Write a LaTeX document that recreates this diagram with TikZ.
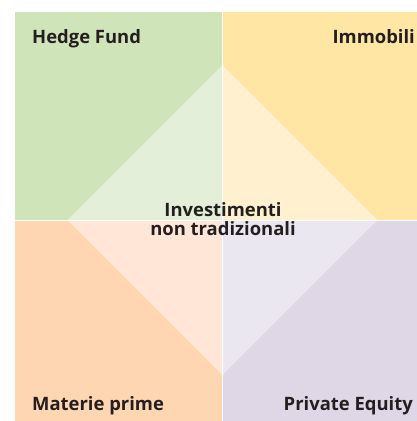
\documentclass[tikz,border=0pt]{standalone}
\usepackage{fontspec}
\setmainfont{Open Sans}
\definecolor{hfdark}{HTML}{CFE5B9}
\definecolor{hflight}{HTML}{E3EFD9}
\definecolor{imdark}{HTML}{FFE6A5}
\definecolor{imlight}{HTML}{FFF0CF}
\definecolor{mpdark}{HTML}{FED6B1}
\definecolor{mplight}{HTML}{FFE6D6}
\definecolor{pedark}{HTML}{DFD7E5}
\definecolor{pelight}{HTML}{EBE7F0}
\definecolor{ink}{HTML}{231F20}
\begin{document}
\begin{tikzpicture}[x=1bp,y=-1bp,
  label/.style={font=\bfseries\fontsize{18.5}{18.3}\selectfont,text=ink,inner sep=0pt},
  divider/.style={white,line width=1.5bp}]
\useasboundingbox (0,0) rectangle (417,421);
% quadrants
\fill[hfdark] (15,12) rectangle (222.5,220);
\fill[imdark] (222.5,12) rectangle (417,220);
\fill[mpdark] (15,220) rectangle (222.5,421);
\fill[pedark] (222.5,220) rectangle (417,421);
% central diamond, lighter tint in each quadrant
\coordinate (c) at (222.5,220);
\coordinate (dt) at (222.5,65);
\coordinate (dl) at (67.5,220);
\coordinate (db) at (222.5,375);
\coordinate (dr) at (377.5,220);
\fill[hflight] (c) -- (dt) -- (dl) -- cycle;
\fill[imlight] (c) -- (dt) -- (dr) -- cycle;
\fill[mplight] (c) -- (db) -- (dl) -- cycle;
\fill[pelight] (c) -- (db) -- (dr) -- cycle;
% white dividers
\draw[divider] (222.7,12) -- (222.7,421);
\draw[divider] (15,220.3) -- (417,220.3);
% labels
\node[label,anchor=base west] (hf) at (32,43) {Hedge Fund};
\node[label,anchor=base east] (im) at (415,43) {Immobili};
\node[label,anchor=base west] (mp) at (32,410) {Materie prime};
\node[label,anchor=base east] (pe) at (413,410) {Private Equity};
\node[label,align=center,anchor=base] (ct) at (223,235) {Investimenti\\non tradizionali};
\end{tikzpicture}
\end{document}
